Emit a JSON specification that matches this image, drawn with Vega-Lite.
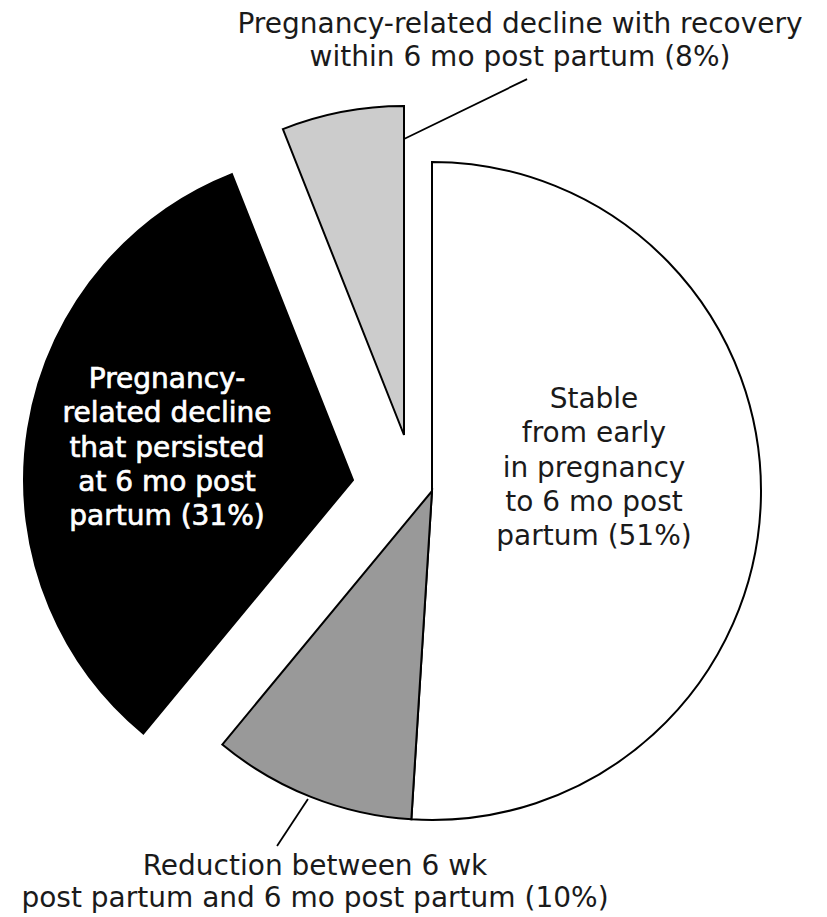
{
  "$schema": "https://vega.github.io/schema/vega-lite/v6.json",
  "width": 790,
  "height": 852,
  "autosize": {"type": "none"},
  "padding": {"left": 37, "top": 65, "right": 0, "bottom": 0},
  "background": "white",
  "config": {"view": {"stroke": null}},
  "datasets": {
    "slices": [
      {"group": "Stable", "share": 51, "rank": 1, "label": "Stable\nfrom early\nin pregnancy\nto 6 mo post\npartum (51%)"},
      {"group": "Reduction", "share": 10, "rank": 2, "label": "Reduction between 6 wk\npost partum and 6 mo post partum (10%)"},
      {"group": "Persisted", "share": 33, "rank": 3, "label": "Pregnancy-\nrelated decline\nthat persisted\nat 6 mo post\npartum (31%)"},
      {"group": "Recovered", "share": 6, "rank": 4, "label": "Pregnancy-related decline with recovery\nwithin 6 mo post partum (8%)"}
    ],
    "leaders": [
      {"slice": "Recovered", "x0": -8.5, "y0": 107.0, "x1": 28.9, "y1": 125.2},
      {"slice": "Reduction", "x0": -37.7, "y0": -93.6, "x1": -47.1, "y1": -107.9}
    ]
  },
  "layer": [
    {
      "data": {"name": "slices"},
      "transform": [
        {"stack": "share", "groupby": [], "sort": [{"field": "rank", "order": "ascending"}], "as": ["s0", "s1"]},
        {"filter": "datum.rank == 1 || datum.rank == 2"}
      ],
      "mark": {"type": "arc", "radius": 329, "stroke": "black", "strokeWidth": 2, "strokeJoin": "miter"},
      "encoding": {
        "theta": {"field": "s0", "type": "quantitative", "scale": {"domain": [0, 100]}},
        "theta2": {"field": "s1"},
        "color": {"field": "group", "type": "nominal", "scale": {"domain": ["Stable", "Reduction", "Persisted", "Recovered"], "range": ["#ffffff", "#999999", "#000000", "#cccccc"]}, "legend": null}
      }
    },
    {
      "data": {"name": "slices"},
      "transform": [
        {"stack": "share", "groupby": [], "sort": [{"field": "rank", "order": "ascending"}], "as": ["s0", "s1"]},
        {"filter": "datum.rank == 3"}
      ],
      "mark": {"type": "arc", "radius": 329, "stroke": "black", "strokeWidth": 2, "strokeJoin": "miter", "xOffset": -79, "yOffset": -11},
      "encoding": {
        "theta": {"field": "s0", "type": "quantitative", "scale": {"domain": [0, 100]}},
        "theta2": {"field": "s1"},
        "color": {"field": "group", "type": "nominal", "legend": null}
      }
    },
    {
      "data": {"name": "slices"},
      "transform": [
        {"stack": "share", "groupby": [], "sort": [{"field": "rank", "order": "ascending"}], "as": ["s0", "s1"]},
        {"filter": "datum.rank == 4"}
      ],
      "mark": {"type": "arc", "radius": 329, "stroke": "black", "strokeWidth": 2, "strokeJoin": "miter", "xOffset": -28, "yOffset": -56},
      "encoding": {
        "theta": {"field": "s0", "type": "quantitative", "scale": {"domain": [0, 100]}},
        "theta2": {"field": "s1"},
        "color": {"field": "group", "type": "nominal", "legend": null}
      }
    },
    {
      "data": {"name": "leaders"},
      "mark": {"type": "rule", "color": "black", "strokeWidth": 1.8},
      "encoding": {
        "x": {"field": "x0", "type": "quantitative", "scale": {"domain": [-120.06, 120.06], "nice": false, "zero": false}, "axis": null},
        "y": {"field": "y0", "type": "quantitative", "scale": {"domain": [-129.48, 129.48], "nice": false, "zero": false}, "axis": null},
        "x2": {"field": "x1"},
        "y2": {"field": "y1"}
      }
    },
    {
      "data": {"name": "slices"},
      "transform": [{"filter": "datum.rank == 1"}],
      "mark": {"type": "text", "font": "DejaVu Sans", "fontSize": 28, "lineHeight": 34.3, "lineBreak": "\n", "align": "center", "baseline": "alphabetic", "dx": 162, "dy": -83, "fill": "#1a1a1a"},
      "encoding": {"text": {"field": "label", "type": "nominal"}}
    },
    {
      "data": {"name": "slices"},
      "transform": [{"filter": "datum.rank == 2"}],
      "mark": {"type": "text", "font": "DejaVu Sans", "fontSize": 28, "lineHeight": 32, "lineBreak": "\n", "align": "center", "baseline": "alphabetic", "dx": -117, "dy": 384, "fill": "#1a1a1a"},
      "encoding": {"text": {"field": "label", "type": "nominal"}}
    },
    {
      "data": {"name": "slices"},
      "transform": [{"filter": "datum.rank == 3"}],
      "mark": {"type": "text", "font": "DejaVu Sans", "fontSize": 28, "lineHeight": 34.3, "lineBreak": "\n", "align": "center", "baseline": "alphabetic", "dx": -265, "dy": -103, "fill": "white", "stroke": "white", "strokeWidth": 0.7},
      "encoding": {"text": {"field": "label", "type": "nominal"}}
    },
    {
      "data": {"name": "slices"},
      "transform": [{"filter": "datum.rank == 4"}],
      "mark": {"type": "text", "font": "DejaVu Sans", "fontSize": 28, "lineHeight": 33, "lineBreak": "\n", "align": "center", "baseline": "alphabetic", "dx": 88, "dy": -458, "fill": "#1a1a1a"},
      "encoding": {"text": {"field": "label", "type": "nominal"}}
    }
  ]
}
